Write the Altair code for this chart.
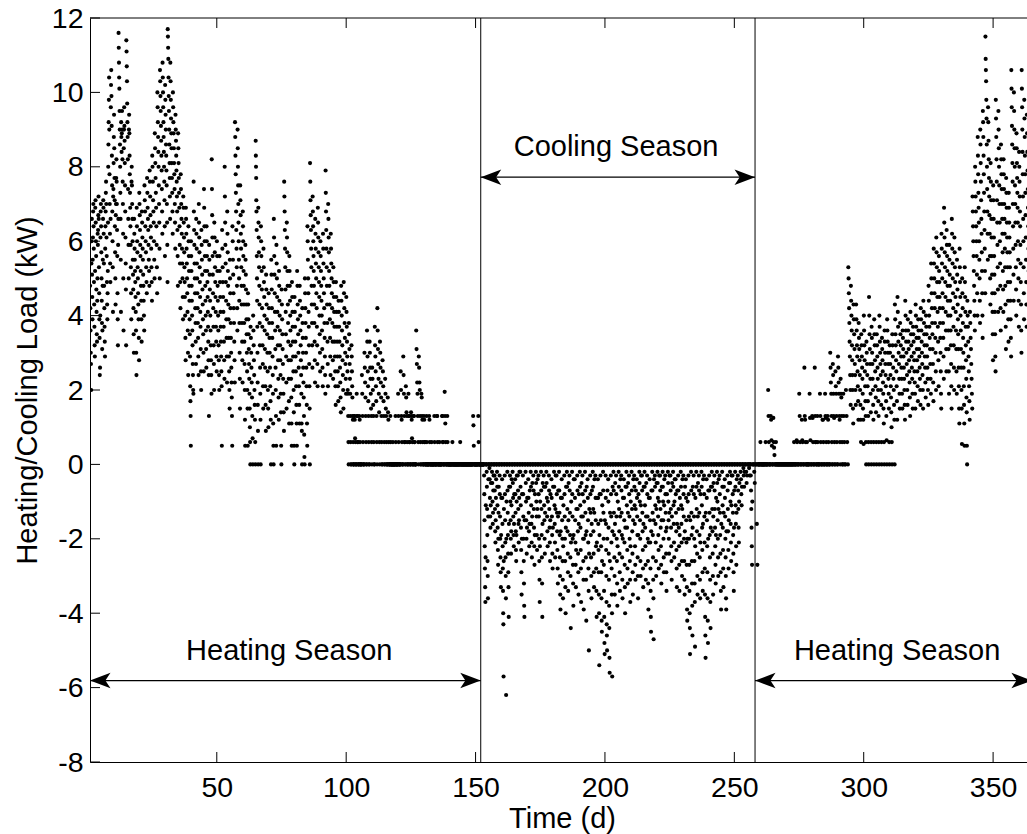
import altair as alt
import pandas as pd

# ---------------- data: hourly-ish load samples, one list per day ----------------
JAN_START = 1
jan = [
    [4.8, 4.2, 3.6, 3.0, 2.7, 2.0, 5.4, 6.0, 6.6, 5.1, 4.5, 3.9],
    [5.5, 6.1, 6.8, 7.0, 6.4, 5.8, 4.9, 4.3, 3.7, 3.2, 2.9, 5.2],
    [6.9, 7.1, 6.5, 6.0, 5.6, 4.7, 4.1, 3.5, 3.3, 4.4, 5.0, 6.2],
    [5.9, 6.3, 6.7, 7.2, 6.6, 5.3, 4.6, 3.9, 3.4, 2.4, 2.6, 4.0],
    [6.1, 6.8, 7.0, 6.4, 5.7, 5.0, 4.4, 3.8, 3.1, 3.6, 4.8, 5.5],
    [6.6, 7.1, 6.9, 6.2, 5.4, 4.8, 4.2, 3.7, 3.3, 2.9, 5.8, 6.4],
    [6.8, 7.3, 7.6, 7.0, 6.1, 5.6, 4.9, 4.3, 3.9, 4.6, 5.2, 6.5],
    [8.0, 8.6, 9.2, 9.8, 10.4, 9.0, 7.8, 7.0, 6.2, 5.4, 4.9, 6.6],
    [9.6, 10.2, 10.6, 9.9, 9.1, 8.3, 7.5, 6.8, 6.0, 5.3, 4.1, 7.2],
    [7.4, 8.1, 8.8, 9.4, 8.5, 7.7, 7.1, 6.4, 5.7, 5.0, 4.3, 6.7],
    [7.0, 7.7, 8.2, 7.6, 7.0, 6.3, 5.6, 4.6, 3.9, 3.2, 5.9, 6.6],
    [11.6, 11.2, 10.8, 10.4, 10.1, 9.5, 9.0, 8.6, 8.0, 7.3, 6.6, 5.5, 4.1],
    [9.2, 8.8, 8.4, 8.9, 9.5, 9.0, 8.2, 7.6, 7.0, 6.2, 5.0, 3.6],
    [8.5, 9.0, 9.6, 9.1, 8.7, 8.1, 7.5, 6.8, 6.1, 5.4, 4.7, 3.2],
    [11.4, 11.1, 10.7, 10.3, 9.7, 9.2, 8.8, 8.2, 7.4, 6.6, 5.9, 5.0],
    [9.0, 9.4, 8.9, 8.3, 7.8, 7.3, 6.9, 6.4, 5.9, 5.3, 4.6, 3.9],
    [7.6, 8.0, 7.5, 7.0, 6.6, 6.0, 5.5, 5.1, 4.7, 4.2, 3.5, 3.0],
    [6.6, 6.2, 5.8, 5.5, 5.2, 4.9, 4.5, 4.1, 3.6, 3.0, 2.4],
    [6.9, 6.4, 6.0, 5.7, 5.3, 5.0, 4.6, 4.3, 3.9, 3.4, 2.8],
    [7.3, 7.0, 6.7, 6.3, 5.9, 5.6, 5.2, 4.8, 4.4, 3.9, 3.3],
    [6.8, 6.5, 6.1, 5.8, 5.5, 5.1, 4.8, 4.4, 4.0, 3.6],
    [7.5, 7.1, 6.8, 6.4, 6.0, 5.7, 5.3, 4.9, 4.6],
    [7.7, 7.3, 6.9, 6.6, 6.3, 5.9, 5.5, 5.2, 4.8],
    [7.9, 7.6, 7.2, 6.7, 6.4, 6.1, 5.8, 5.3, 4.9, 4.4],
    [8.3, 8.0, 7.6, 7.1, 6.8, 6.5, 6.0, 5.5, 5.0],
    [8.9, 8.5, 8.1, 7.7, 7.3, 6.9, 6.4, 5.9, 5.3, 4.6],
    [10.0, 9.6, 9.2, 8.8, 8.4, 8.0, 7.5, 7.0, 6.5, 5.8, 5.0],
    [10.6, 10.3, 9.9, 9.5, 9.1, 8.7, 8.3, 7.9, 7.4, 6.8, 6.2],
    [10.8, 10.4, 10.0, 9.6, 9.2, 8.8, 8.4, 8.0, 7.6, 7.1, 6.4, 5.6],
    [10.2, 9.8, 9.4, 9.0, 8.6, 8.3, 7.9, 7.5, 7.0, 6.5, 5.9, 4.9],
    [11.7, 11.5, 11.2, 10.9, 10.4, 9.9, 9.5, 9.0, 8.6, 8.1, 7.7, 7.2, 6.6],
]

FEB_START = 32
feb = [
    [10.8, 10.3, 9.8, 9.3, 8.9, 8.5, 8.1, 7.7, 7.3, 6.8, 6.2],
    [10.0, 9.6, 9.2, 8.9, 8.5, 8.1, 7.8, 7.4, 7.0, 6.5, 5.8],
    [9.4, 9.0, 8.7, 8.3, 7.9, 7.6, 7.2, 6.8, 6.3, 5.6, 4.8],
    [8.9, 8.5, 8.1, 7.7, 7.3, 6.9, 6.4, 5.9, 5.4, 4.9, 4.2],
    [7.8, 7.4, 7.0, 6.6, 6.2, 5.8, 5.4, 5.0, 4.5, 3.9],
    [7.2, 6.9, 6.5, 6.1, 5.7, 5.3, 4.9, 4.5, 4.0, 3.4, 2.8],
    [6.9, 6.6, 6.2, 5.8, 5.4, 5.0, 4.6, 4.1, 3.6, 3.0, 2.4],
    [6.4, 6.0, 5.6, 5.2, 4.8, 4.4, 3.9, 3.5, 2.9, 2.1, 1.7, 1.3, 0.5],
    [6.0, 5.6, 5.2, 4.8, 4.4, 4.0, 3.6, 3.2, 2.7, 2.4, 2.0, 1.9],
    [7.6, 6.8, 6.3, 5.9, 5.4, 5.0, 4.6, 4.2, 3.8, 3.3, 2.7],
    [6.6, 6.2, 5.8, 5.4, 5.0, 4.6, 4.2, 3.8, 3.4, 2.9, 2.4],
    [7.0, 6.5, 6.1, 5.7, 5.3, 4.9, 4.5, 4.1, 3.7, 3.1, 2.5, 2.0],
    [6.3, 5.9, 5.5, 5.1, 4.7, 4.3, 3.9, 3.5, 3.0, 2.5],
    [7.4, 6.9, 6.4, 6.0, 5.6, 5.2, 4.8, 4.4, 4.0, 3.6, 3.1, 2.6],
    [6.4, 6.0, 5.6, 5.2, 4.9, 4.5, 4.1, 3.7, 3.3, 2.8, 2.4, 1.3],
    [5.9, 5.5, 5.1, 4.7, 4.4, 4.0, 3.6, 3.2, 2.8, 2.4, 1.9],
    [8.2, 7.4, 6.7, 6.1, 5.6, 5.1, 4.6, 4.2, 3.7, 3.2, 2.7, 2.0],
    [6.5, 6.1, 5.7, 5.3, 4.9, 4.5, 4.1, 3.7, 3.3, 2.9, 2.5],
    [6.0, 5.6, 5.2, 4.8, 4.4, 4.0, 3.6, 3.2, 2.8, 2.4, 2.0],
    [5.6, 5.2, 4.9, 4.5, 4.1, 3.7, 3.3, 2.9, 2.5, 2.1, 0.5],
    [6.3, 5.8, 5.3, 4.9, 4.5, 4.1, 3.7, 3.3, 2.8, 2.3],
    [8.0, 7.2, 6.5, 5.9, 5.4, 4.9, 4.4, 3.9, 3.4, 2.9, 2.2],
    [6.8, 6.2, 5.7, 5.2, 4.8, 4.3, 3.9, 3.4, 2.9, 2.5, 2.0, 1.5],
    [5.5, 5.0, 4.6, 4.2, 3.8, 3.4, 3.0, 2.6, 2.2, 1.8, 1.3, 0.5],
    [6.4, 6.0, 5.5, 5.1, 4.6, 4.2, 3.8, 3.3, 2.8, 2.2],
    [9.2, 8.8, 8.3, 7.8, 7.3, 6.8, 6.3, 5.8, 5.3, 4.8, 4.2, 3.6],
    [9.0, 8.5, 8.0, 7.5, 7.0, 6.5, 6.0, 5.5, 5.0, 4.4, 3.8, 3.0, 2.3, 1.5],
    [7.5, 7.1, 6.7, 6.2, 5.8, 5.3, 4.8, 4.3, 3.8, 3.3, 2.8, 2.2],
]

MAR_START = 60
mar = [
    [6.8, 6.4, 6.0, 5.6, 5.2, 4.8, 4.3, 3.8, 3.3, 2.7, 2.0, 1.2, 0.5],
    [5.9, 5.5, 5.1, 4.7, 4.3, 3.9, 3.5, 3.0, 2.5, 2.0, 1.5, 0.5],
    [4.6, 4.3, 3.9, 3.5, 3.1, 2.7, 2.3, 1.9, 1.5, 1.0, 0.6, 0.0],
    [3.7, 3.4, 3.0, 2.6, 2.2, 1.8, 1.3, 0.7, 0.0],
    [4.0, 3.6, 3.2, 2.8, 2.4, 2.0, 1.6, 1.2, 0.6, 0.0],
    [8.7, 8.3, 8.0, 7.7, 7.1, 6.8, 6.3, 5.6, 5.0, 4.4, 3.7, 3.0, 2.2, 1.6, 0.9, 0.0],
    [6.9, 6.5, 6.1, 5.7, 5.3, 4.8, 4.3, 3.8, 3.2, 2.6, 1.9, 1.2, 0.0],
    [6.4, 6.0, 5.6, 5.2, 4.7, 4.2, 3.7, 3.2, 2.7, 2.1, 1.5],
    [5.8, 5.3, 4.9, 4.5, 4.0, 3.6, 3.1, 2.6, 2.1, 1.6, 0.9],
    [5.1, 4.7, 4.3, 3.9, 3.5, 3.0, 2.5, 2.0, 1.5, 1.0],
    [4.6, 4.2, 3.8, 3.4, 3.0, 2.6, 2.1, 1.7, 1.2, 0.0],
    [5.5, 5.1, 4.7, 4.2, 3.8, 3.4, 2.9, 2.4, 1.9, 1.1, 0.5, 0.0],
    [6.6, 6.1, 5.6, 5.1, 4.6, 4.1, 3.6, 3.1, 2.6, 2.0, 1.3, 0.5],
    [5.9, 5.4, 5.0, 4.5, 4.1, 3.7, 3.2, 2.8, 2.3, 1.8, 1.2],
    [5.2, 4.8, 4.4, 4.0, 3.6, 3.2, 2.8, 2.4, 1.9, 1.4, 0.5, 0.0],
    [4.7, 4.3, 3.9, 3.5, 3.1, 2.7, 2.3, 1.9, 1.4, 0.9],
    [7.6, 7.2, 6.8, 6.3, 5.8, 5.3, 4.7, 4.1, 3.5, 2.9, 2.2, 1.5],
    [6.5, 6.1, 5.7, 5.2, 4.8, 4.3, 3.8, 3.3, 2.8, 2.3, 1.7, 1.1],
    [5.6, 5.2, 4.8, 4.4, 4.0, 3.6, 3.2, 2.8, 2.3, 1.8, 1.1, 0.5],
    [4.9, 4.5, 4.1, 3.7, 3.3, 2.9, 2.5, 2.0, 1.4, 0.5, 0.0],
    [4.5, 4.1, 3.7, 3.3, 2.9, 2.5, 2.1, 1.6, 1.1, 0.5],
    [5.2, 4.8, 4.3, 3.9, 3.5, 3.0, 2.6, 2.1, 1.6, 1.1],
    [4.8, 4.4, 4.0, 3.6, 3.2, 2.8, 2.4, 1.9, 1.1, 0.9, 0.0],
    [4.2, 3.8, 3.4, 3.0, 2.6, 2.2, 1.8, 1.3, 0.8, 0.2, 0.0],
    [5.0, 4.6, 4.2, 3.8, 3.4, 3.0, 2.6, 2.1, 1.6, 1.1, 0.5],
    [6.4, 6.0, 5.5, 5.0, 4.6, 4.1, 3.7, 3.2, 2.7, 2.1, 1.5, 0.0],
    [8.1, 7.6, 7.1, 6.7, 6.3, 5.8, 5.3, 4.8, 4.3, 3.8, 3.2, 2.6],
    [7.2, 6.8, 6.4, 6.0, 5.6, 5.2, 4.8, 4.3, 3.8, 3.3, 2.8, 2.2],
    [6.6, 6.2, 5.8, 5.4, 5.0, 4.6, 4.2, 3.7, 3.2, 2.7, 2.1],
    [6.9, 6.5, 6.1, 5.7, 5.3, 4.9, 4.5, 4.0, 3.5, 3.0, 2.5],
    [6.0, 5.6, 5.2, 4.8, 4.4, 4.0, 3.6, 3.1, 2.6, 2.1],
]

APR_START = 91
apr = [
    [6.2, 5.8, 5.4, 5.0, 4.6, 4.2, 3.8, 3.4, 2.9, 2.4, 1.9],
    [7.9, 7.3, 6.8, 6.3, 5.8, 5.3, 4.8, 4.3, 3.8, 3.3, 2.7, 2.1],
    [7.0, 6.6, 6.1, 5.7, 5.2, 4.8, 4.3, 3.9, 3.4, 2.9, 2.4],
    [6.2, 5.8, 5.4, 5.0, 4.6, 4.2, 3.8, 3.3, 2.8, 2.3],
    [5.3, 4.9, 4.5, 4.1, 3.7, 3.3, 2.9, 2.5, 2.1, 1.6],
    [4.9, 4.5, 4.1, 3.7, 3.3, 2.9, 2.5, 2.1, 1.7],
    [4.4, 4.1, 3.7, 3.3, 2.9, 2.6, 2.2, 1.8, 1.4],
    [4.8, 4.4, 4.0, 3.6, 3.2, 2.8, 2.4, 2.0, 1.5],
    [4.9, 4.6, 4.2, 3.8, 3.4, 3.0, 2.7, 2.3, 1.9],
    [4.5, 4.1, 3.7, 3.3, 2.9, 2.5, 2.0, 1.9, 1.3, 0.6, 0.0],
    [3.8, 3.5, 3.1, 2.7, 2.3, 1.9, 1.3, 0.6, 0.0, 0.0],
    [3.2, 2.9, 2.5, 2.1, 1.8, 1.3, 1.2, 0.6, 0.0, 0.0, 0.0],
    [1.3, 1.3, 1.2, 0.7, 0.6, 0.0, 0.0, 0.0],
    [1.9, 1.3, 1.3, 0.6, 0.6, 0.0, 0.0, 0.0],
    [1.3, 1.2, 0.6, 0.0, 0.0, 0.0, 0.0],
    [2.4, 1.9, 1.3, 0.6, 0.0, 0.0, 0.0],
    [3.0, 2.6, 2.2, 1.8, 1.3, 0.6, 0.0, 0.0],
    [3.6, 3.3, 2.9, 2.5, 2.1, 1.7, 1.3, 0.6, 0.0, 0.0],
    [3.3, 3.0, 2.6, 2.3, 1.9, 1.5, 1.3, 0.6, 0.0],
    [2.6, 2.3, 2.0, 1.6, 1.3, 0.6, 0.0, 0.0],
    [3.7, 3.2, 2.9, 2.5, 2.1, 1.7, 1.3, 0.6, 0.0],
    [4.2, 3.6, 3.1, 2.7, 2.3, 1.9, 1.4, 0.6, 0.0],
    [3.3, 3.0, 2.6, 2.2, 1.8, 1.3, 0.6, 0.0, 0.0],
    [2.8, 2.5, 2.1, 1.7, 1.3, 0.6, 0.0, 0.0],
    [2.3, 1.9, 1.5, 1.3, 0.6, 0.0, 0.0, 0.0],
    [1.8, 1.4, 1.2, 0.6, 0.0, 0.0, 0.0, 0.0],
    [1.3, 0.6, 0.0, 0.0, 0.0, 0.0, 0.0, 0.0],
    [0.6, 0.0, 0.0, 0.0, 0.0, 0.0, 0.0, 0.0],
    [1.3, 0.6, 0.0, 0.0, 0.0, 0.0, 0.0, 0.0],
    [1.9, 1.3, 0.6, 0.0, 0.0, 0.0, 0.0, 0.0],
]

MAY_START = 121
may = [
    [2.5, 2.0, 1.3, 1.2, 0.6, 0.0, 0.0, 0.0],
    [2.9, 2.4, 1.9, 1.3, 0.6, 0.6, 0.0, 0.0],
    [2.1, 1.8, 1.4, 1.3, 0.6, 0.0, 0.0, 0.0],
    [1.9, 1.3, 1.3, 0.6, 0.6, 0.0, 0.0, 0.0],
    [1.4, 1.3, 1.2, 0.7, 0.6, 0.0, 0.0, 0.0],
    [1.3, 1.3, 0.6, 0.6, 0.0, 0.0, 0.0, 0.0],
    [3.6, 3.1, 2.7, 2.2, 1.9, 1.3, 0.6, 0.0],
    [2.9, 2.6, 2.2, 2.0, 1.3, 0.6, 0.0, 0.0],
    [1.9, 1.8, 1.3, 1.2, 0.6, 0.0, 0.0, 0.0],
    [1.3, 1.2, 0.6, 0.6, 0.0, 0.0, 0.0, 0.0],
    [1.3, 0.6, 0.0, 0.0, 0.0, 0.0, 0.0, 0.0],
    [1.3, 1.2, 0.6, 0.0, 0.0, 0.0, 0.0, 0.0],
    [0.6, 0.0, 0.0, 0.0, 0.0, 0.0, 0.0, 0.0],
    [1.3, 0.6, 0.0, 0.0, 0.0, 0.0, 0.0, 0.0],
    [1.3, 1.3, 0.6, 0.0, 0.0, 0.0, 0.0, 0.0],
    [0.6, 0.0, 0.0, 0.0, 0.0, 0.0, 0.0, 0.0],
    [1.3, 1.3, 0.6, 0.6, 0.0, 0.0, 0.0, 0.0],
    [1.95, 1.3, 1.1, 0.6, 0.0, 0.0, 0.0, 0.0],
    [1.3, 0.6, 0.0, 0.0, 0.0, 0.0, 0.0, 0.0],
    [0.0, 0.0, 0.0, 0.0, 0.0, 0.0, 0.0, 0.0],
    [0.6, 0.0, 0.0, 0.0, 0.0, 0.0, 0.0, 0.0],
    [0.0, 0.0, 0.0, 0.0, 0.0, 0.0, 0.0, 0.0],
    [0.0, 0.0, 0.0, 0.0, 0.0, 0.0, 0.0, 0.0],
    [0.6, 0.0, 0.0, 0.0, 0.0, 0.0, 0.0, 0.0],
    [0.0, 0.0, 0.0, 0.0, 0.0, 0.0, 0.0, 0.0],
    [0.0, 0.0, 0.0, 0.0, 0.0, 0.0, 0.0, 0.0],
    [0.0, 0.0, 0.0, 0.0, 0.0, 0.0, 0.0, 0.0],
    [0.0, 0.0, 0.0, 0.0, 0.0, 0.0, 0.0, 0.0],
    [1.3, 1.05, 0.5, 0.0, 0.0, 0.0, 0.0, 0.0],
    [0.0, 0.0, 0.0, 0.0, 0.0, 0.0, 0.0, 0.0],
    [1.3, 0.6, 0.0, 0.0, 0.0, 0.0, 0.0, 0.0],
]

JUN_START = 152
jun = [
    [0, 0, 0, 0, 0, 0, 0, 0],
    [0, 0, 0, -0.3, -0.8, -1.5, -2.2, -2.8, -3.3, -3.7, -2.5, -1.1],
    [0, 0, 0, -0.2, -0.6, -1.2, -1.9, -2.6, -3.0, -3.6, -1.4, -0.4],
    [0, 0, 0, -0.1, -0.4, -0.9, -1.4, -1.7, -1.1, -0.5],
    [0, 0, 0, -0.2, -0.5, -1.0, -1.6, -1.3, -0.7, -0.3],
    [0, 0, 0, -0.3, -0.7, -1.2, -1.8, -2.1, -1.5, -0.9, -0.4],
    [0, 0, 0, -0.2, -0.6, -1.1, -1.7, -2.3, -2.7, -2.0, -1.3, -0.6],
    [0, 0, 0, -0.3, -0.8, -1.4, -2.0, -2.5, -2.9, -3.3, -1.9, -0.9],
    [0, 0, 0, -0.4, -0.9, -1.6, -2.2, -2.8, -3.4, -4.0, -4.3, -5.7, -2.6, -1.2],
    [0, 0, 0, -0.3, -0.8, -1.5, -2.1, -2.5, -3.0, -3.6, -6.2, -2.0, -1.0],
    [0, 0, 0, -0.2, -0.7, -1.3, -1.9, -2.4, -2.9, -3.3, -4.1, -1.6, -0.6],
    [0, 0, 0, -0.3, -0.6, -1.0, -1.5, -2.0, -2.4, -1.8, -1.1, -0.4],
    [0, 0, 0, -0.2, -0.5, -0.9, -1.4, -1.9, -2.2, -1.6, -0.8],
    [0, 0, 0, -0.4, -0.8, -1.3, -1.8, -2.3, -2.6, -1.9, -1.0, -0.3],
    [0, 0, 0, -0.3, -0.7, -1.2, -1.6, -2.1, -1.5, -0.9, -0.2],
    [0, 0, 0, -0.2, -0.6, -1.1, -1.7, -2.3, -2.9, -3.5, -2.0, -0.8],
    [0, 0, 0, -0.3, -0.8, -1.4, -2.0, -2.6, -3.2, -3.8, -4.1, -1.5],
    [0, 0, 0, -0.2, -0.5, -1.0, -1.5, -2.0, -2.4, -1.7, -0.9],
    [0, 0, 0, -0.4, -0.9, -1.3, -1.8, -2.2, -1.6, -0.7],
    [0, 0, 0, -0.2, -0.6, -1.1, -1.6, -2.1, -2.5, -1.4, -0.5],
    [0, 0, 0, -0.3, -0.7, -1.2, -1.7, -2.2, -2.7, -1.9, -0.8],
    [0, 0, 0, -0.2, -0.5, -1.0, -1.4, -1.9, -2.3, -1.2, -0.4],
    [0, 0, 0, -0.3, -0.8, -1.4, -2.0, -2.6, -3.1, -3.7, -2.2, -1.0],
    [0, 0, 0, -0.2, -0.7, -1.2, -1.9, -2.5, -3.2, -4.1, -1.6, -0.5],
    [0, 0, 0, -0.3, -0.6, -1.1, -1.5, -2.0, -2.4, -1.3, -0.6],
    [0, 0, 0, -0.2, -0.5, -0.9, -1.4, -1.8, -2.2, -1.0],
    [0, 0, 0, -0.3, -0.7, -1.2, -1.7, -2.1, -2.6, -1.5, -0.8],
    [0, 0, 0, -0.4, -0.9, -1.4, -1.9, -2.4, -2.8, -1.7, -0.6],
    [0, 0, 0, -0.2, -0.6, -1.1, -1.6, -2.1, -2.5, -1.2, -0.3],
    [0, 0, 0, -0.3, -0.8, -1.3, -1.8, -2.3, -2.8, -3.2, -1.4, -0.7],
]

JUL_START = 182
jul = [
    [0, 0, 0, -0.2, -0.7, -1.3, -1.9, -2.5, -3.0, -3.5, -3.9, -1.8, -0.9],
    [0, 0, 0, -0.4, -0.9, -1.5, -2.0, -2.6, -3.1, -3.6, -2.2, -1.1],
    [0, 0, 0, -0.3, -0.8, -1.4, -2.0, -2.6, -3.3, -4.0, -1.7, -0.6],
    [0, 0, 0, -0.2, -0.6, -1.2, -1.8, -2.4, -2.9, -3.4, -1.5, -0.5],
    [0, 0, 0, -0.3, -0.7, -1.3, -1.9, -2.5, -3.0, -4.4, -2.1, -1.0],
    [0, 0, 0, -0.2, -0.8, -1.4, -2.0, -2.7, -3.2, -3.8, -1.9, -0.4],
    [0, 0, 0, -0.4, -0.9, -1.5, -2.1, -2.7, -3.3, -2.3, -1.2],
    [0, 0, 0, -0.3, -0.7, -1.2, -1.8, -2.4, -2.9, -3.5, -1.6, -0.8],
    [0, 0, 0, -0.2, -0.6, -1.1, -1.7, -2.3, -2.8, -3.7, -1.4, -0.5],
    [0, 0, 0, -0.3, -0.8, -1.4, -2.0, -2.6, -3.1, -3.9, -2.0, -1.0],
    [0, 0, 0, -0.2, -0.7, -1.3, -1.9, -2.5, -3.1, -4.2, -1.8, -0.6],
    [0, 0, 0, -0.4, -0.9, -1.5, -2.1, -2.8, -3.4, -5.0, -2.4, -1.2],
    [0, 0, 0, -0.3, -0.8, -1.3, -1.9, -2.5, -3.0, -3.6, -1.6, -0.7],
    [0, 0, 0, -0.2, -0.6, -1.2, -1.8, -2.4, -2.9, -3.3, -1.3, -0.4],
    [0, 0, 0, -0.3, -0.9, -1.5, -2.2, -2.8, -3.4, -4.1, -2.1, -0.9],
    [0, 0, 0, -0.4, -0.9, -1.6, -2.3, -2.9, -3.5, -4.0, -5.4, -1.9, -0.8],
    [0, 0, 0, -0.3, -0.8, -1.5, -2.2, -2.9, -3.6, -4.2, -4.5, -2.6, -1.1],
    [0, 0, 0, -0.2, -0.7, -1.3, -2.0, -2.7, -3.4, -4.1, -4.8, -5.1, -1.5],
    [0, 0, 0, -0.3, -0.9, -1.6, -2.3, -3.0, -3.7, -4.3, -4.6, -5.0, -2.0, -0.7],
    [0, 0, 0, -0.4, -1.0, -1.7, -2.4, -3.1, -3.8, -4.4, -5.2, -5.6, -2.6, -1.3],
    [0, 0, 0, -0.3, -0.8, -1.4, -2.1, -2.8, -3.5, -4.0, -5.7, -1.8, -0.6],
    [0, 0, 0, -0.2, -0.7, -1.3, -1.9, -2.5, -3.0, -3.5, -1.6, -0.5],
    [0, 0, 0, -0.3, -0.8, -1.4, -2.0, -2.6, -3.2, -3.8, -2.2, -1.0],
    [0, 0, 0, -0.2, -0.6, -1.2, -1.8, -2.4, -2.9, -3.4, -1.4, -0.4],
    [0, 0, 0, -0.3, -0.7, -1.3, -1.9, -2.5, -3.1, -3.6, -2.0, -0.9],
    [0, 0, 0, -0.4, -0.9, -1.5, -2.1, -2.7, -3.3, -4.0, -1.7, -0.6],
    [0, 0, 0, -0.2, -0.6, -1.1, -1.7, -2.3, -2.8, -3.2, -1.3, -0.5],
    [0, 0, 0, -0.3, -0.8, -1.4, -2.0, -2.6, -3.1, -3.7, -2.2, -1.0],
    [0, 0, 0, -0.2, -0.7, -1.2, -1.8, -2.4, -2.9, -3.5, -1.5, -0.4],
    [0, 0, 0, -0.3, -0.6, -1.1, -1.6, -2.2, -2.7, -3.1, -1.2, -0.7],
    [0, 0, 0, -0.4, -0.9, -1.4, -1.9, -2.5, -3.0, -3.6, -1.9, -0.8],
]

AUG_START = 213
aug = [
    [0, 0, 0, -0.2, -0.5, -1.0, -1.5, -2.0, -2.6, -3.0, -1.1, -0.3],
    [0, 0, 0, -0.3, -0.7, -1.3, -1.8, -2.3, -2.8, -3.3, -1.6, -0.6],
    [0, 0, 0, -0.2, -0.6, -1.1, -1.7, -2.2, -2.7, -3.1, -1.4, -0.5],
    [0, 0, 0, -0.3, -0.8, -1.4, -2.0, -2.6, -3.2, -3.9, -2.1, -0.9],
    [0, 0, 0, -0.4, -0.9, -1.5, -2.1, -2.8, -3.4, -4.1, -4.5, -1.8, -0.7],
    [0, 0, 0, -0.2, -0.7, -1.3, -1.9, -2.5, -3.1, -3.6, -4.7, -1.5, -0.4],
    [0, 0, 0, -0.3, -0.6, -1.1, -1.6, -2.1, -2.6, -3.0, -1.2, -0.5],
    [0, 0, 0, -0.2, -0.5, -0.9, -1.4, -1.9, -2.3, -2.8, -1.0, -0.3],
    [0, 0, 0, -0.3, -0.7, -1.2, -1.7, -2.2, -2.7, -3.2, -1.5, -0.6],
    [0, 0, 0, -0.2, -0.6, -1.0, -1.5, -2.0, -2.5, -2.9, -1.1, -0.4],
    [0, 0, 0, -0.3, -0.8, -1.3, -1.8, -2.4, -2.9, -3.4, -1.7, -0.8],
    [0, 0, 0, -0.2, -0.5, -1.0, -1.5, -2.0, -2.4, -1.3, -0.3],
    [0, 0, 0, -0.3, -0.7, -1.2, -1.7, -2.2, -2.6, -3.1, -1.4, -0.5],
    [0, 0, 0, -0.2, -0.6, -1.1, -1.6, -2.1, -2.5, -1.0, -0.4],
    [0, 0, 0, -0.4, -0.8, -1.3, -1.8, -2.3, -2.8, -3.3, -1.6, -0.7],
    [0, 0, 0, -0.3, -0.7, -1.2, -1.7, -2.2, -2.7, -3.4, -1.9, -0.9],
    [0, 0, 0, -0.2, -0.6, -1.1, -1.6, -2.1, -2.6, -3.0, -1.2, -0.4],
    [0, 0, 0, -0.3, -0.8, -1.4, -2.0, -2.6, -3.1, -3.5, -1.8, -0.6],
    [0, 0, 0, -0.4, -0.9, -1.5, -2.1, -2.7, -3.3, -3.9, -4.2, -2.0, -1.0],
    [0, 0, 0, -0.3, -0.8, -1.4, -2.0, -2.7, -3.4, -4.0, -4.4, -5.1, -1.5],
    [0, 0, 0, -0.2, -0.7, -1.3, -1.9, -2.6, -3.2, -3.8, -4.6, -1.7, -0.6],
    [0, 0, 0, -0.3, -0.8, -1.4, -2.0, -2.6, -3.2, -3.7, -4.9, -2.2, -0.9],
    [0, 0, 0, -0.2, -0.6, -1.2, -1.8, -2.4, -3.0, -3.5, -1.4, -0.5],
    [0, 0, 0, -0.3, -0.7, -1.3, -1.9, -2.5, -3.1, -3.6, -2.1, -0.8],
    [0, 0, 0, -0.2, -0.6, -1.1, -1.7, -2.3, -2.9, -3.4, -1.6, -0.4],
    [0, 0, 0, -0.3, -0.8, -1.4, -2.1, -2.8, -3.5, -4.1, -4.6, -5.2, -1.3],
    [0, 0, 0, -0.4, -0.9, -1.5, -2.2, -2.9, -3.6, -4.2, -4.8, -2.0, -0.7],
    [0, 0, 0, -0.3, -0.7, -1.3, -1.9, -2.5, -3.1, -3.7, -4.4, -1.7, -0.6],
    [0, 0, 0, -0.2, -0.6, -1.2, -1.8, -2.4, -3.0, -3.5, -1.4, -0.5],
    [0, 0, 0, -0.3, -0.7, -1.2, -1.7, -2.2, -2.7, -3.2, -1.9, -0.9],
    [0, 0, 0, -0.2, -0.5, -1.0, -1.5, -2.0, -2.5, -3.0, -1.2, -0.4],
]

SEP_START = 244
sep = [
    [0, 0, 0, -0.3, -0.8, -1.3, -1.9, -2.4, -2.9, -3.4, -3.9, -1.6],
    [0, 0, 0, -0.2, -0.6, -1.1, -1.7, -2.3, -2.8, -3.3, -1.3, -0.6],
    [0, 0, 0, -0.4, -0.9, -1.4, -2.0, -2.5, -3.0, -3.6, -3.9, -1.8],
    [0, 0, 0, -0.3, -0.7, -1.2, -1.8, -2.3, -2.8, -1.5, -0.5],
    [0, 0, 0, -0.2, -0.5, -1.0, -1.6, -2.1, -2.6, -1.1, -0.3],
    [0, 0, 0, -0.3, -0.8, -1.3, -1.9, -2.4, -2.9, -3.4, -1.7, -0.7],
    [0, 0, 0, -0.2, -0.6, -1.1, -1.6, -2.2, -2.7, -1.3, -0.4],
    [0, 0, 0, -0.3, -0.7, -1.2, -1.7, -2.1, -1.0, -0.5],
    [0, 0, 0, -0.2, -0.4, -0.8, -1.1, -0.6],
    [0, 0, 0, -0.1, -0.3, -0.6, -0.2],
    [0, 0, 0, -0.2, -0.5, -0.3],
    [0, 0, 0, -0.1, -0.3],
    [0, 0, 0, -0.3, -0.7, -1.2, -1.7, -2.2, -2.7, -1.0],
    [0, 0, 0, -0.2, -0.5],
    [0, 0, 0, -1.6, -2.7],
    [0, 0, 0, 0, 0, 0],
    [0.6, 0, 0, 0, 0, 0],
    [0, 0, 0, 0, 0, 0],
    [0.6, 0, 0, 0, 0, 0],
    [2.0, 1.3, 0.6, 0, 0, 0, 0],
    [1.3, 1.2, 0.65, 0.5, 0, 0, 0],
    [1.25, 0.6, 0.45, 0.25, 0, 0, 0],
    [0.6, 0, 0, 0, 0, 0],
    [0, 0, 0, 0, 0, 0],
    [0, 0, 0, 0, 0, 0],
    [0, 0, 0, 0, 0, 0],
    [0, 0, 0, 0, 0, 0],
    [0, 0, 0, 0, 0, 0],
    [0, 0, 0, 0, 0, 0],
    [0.6, 0, 0, 0, 0, 0],
]

OCT_START = 274
oct_ = [
    [0.65, 0.6, 0, 0, 0, 0],
    [1.9, 1.3, 0.6, 0, 0, 0],
    [1.2, 0.65, 0.6, 0, 0, 0],
    [2.6, 1.3, 1.2, 0.6, 0, 0, 0],
    [0.6, 0, 0, 0, 0, 0],
    [1.9, 1.25, 0.65, 0, 0, 0],
    [1.3, 1.25, 0.6, 0, 0, 0],
    [2.6, 1.3, 0.6, 0.6, 0, 0, 0],
    [1.3, 0.6, 0, 0, 0, 0],
    [1.9, 1.3, 0.6, 0, 0, 0],
    [1.2, 1.2, 0.6, 0, 0, 0],
    [1.9, 1.3, 1.25, 0.6, 0, 0, 0],
    [1.3, 1.2, 0.6, 0, 0, 0],
    [3.0, 2.6, 2.2, 1.9, 1.3, 0.6, 0, 0],
    [2.7, 2.4, 1.9, 1.3, 1.25, 0.6, 0, 0],
    [2.5, 2.1, 1.9, 1.3, 0.6, 0, 0],
    [2.9, 2.6, 2.2, 1.9, 1.3, 1.2, 0.6, 0],
    [2.3, 1.9, 1.8, 1.3, 0.6, 0, 0],
    [1.9, 1.3, 0.6, 0, 0],
    [2.0, 1.3, 0.6, 0],
    [5.3, 5.0, 4.6, 4.2, 3.8, 3.3, 2.9, 2.4, 2.0, 1.6],
    [4.8, 4.4, 4.0, 3.6, 3.2, 2.8, 2.4, 2.0, 1.5, 1.1],
    [4.3, 3.9, 3.5, 3.1, 2.7, 2.4, 2.0, 1.6],
    [4.3, 3.9, 3.6, 3.2, 2.9, 2.5, 2.1, 1.7, 1.2],
    [3.8, 3.4, 3.1, 2.8, 2.4, 2.0, 1.6, 1.2, 0.6],
    [3.5, 3.2, 2.9, 2.6, 2.3, 1.9, 1.5, 1.2, 0.55],
    [4.0, 3.6, 3.2, 2.8, 2.5, 2.1, 1.7, 1.3, 0.6, 0],
    [3.3, 3.0, 2.7, 2.4, 2.1, 1.7, 1.3, 0.6, 0],
    [4.5, 4.0, 3.5, 3.1, 2.7, 2.3, 1.9, 1.4, 0.6, 0],
    [3.7, 3.4, 3.0, 2.7, 2.3, 2.0, 1.6, 1.2, 0.6, 0],
    [3.9, 3.5, 3.2, 2.8, 2.5, 2.1, 1.8, 1.4, 0.6, 0],
]

NOV_START = 305
nov = [
    [3.5, 3.2, 2.9, 2.6, 2.3, 2.0, 1.7, 1.3, 0.6, 0],
    [4.0, 3.7, 3.3, 3.0, 2.7, 2.4, 2.0, 1.6, 0.6, 0],
    [3.4, 3.1, 2.8, 2.5, 2.2, 1.9, 1.5, 1.1, 0.6, 0],
    [3.6, 3.3, 3.0, 2.7, 2.4, 2.1, 1.7, 1.3, 0.65, 0],
    [3.9, 3.6, 3.3, 3.0, 2.7, 2.3, 1.9, 1.5, 0.6, 0],
    [3.2, 3.0, 2.7, 2.4, 2.1, 1.8, 1.4, 1.0, 0.6, 0],
    [3.5, 3.2, 2.9, 2.6, 2.3, 2.0, 1.6, 1.2, 0],
    [4.3, 3.9, 3.5, 3.2, 2.8, 2.5, 2.1, 1.7, 1.2],
    [4.5, 4.1, 3.7, 3.3, 3.0, 2.7, 2.3, 1.9, 1.5],
    [3.8, 3.5, 3.2, 2.9, 2.6, 2.3, 1.9, 1.5],
    [3.6, 3.4, 3.1, 2.9, 2.6, 2.3, 2.0, 1.6, 1.2],
    [4.4, 4.0, 3.6, 3.3, 3.0, 2.7, 2.4, 2.0, 1.6],
    [3.9, 3.6, 3.3, 3.1, 2.8, 2.5, 2.2, 1.8, 1.3],
    [4.1, 3.8, 3.5, 3.2, 2.9, 2.6, 2.3, 1.9, 1.5],
    [3.7, 3.5, 3.3, 3.0, 2.8, 2.5, 2.2, 1.9, 1.5],
    [4.3, 4.0, 3.7, 3.4, 3.1, 2.8, 2.5, 2.1, 1.7],
    [3.9, 3.6, 3.4, 3.1, 2.9, 2.6, 2.3, 2.0, 1.6],
    [4.2, 3.9, 3.6, 3.3, 3.0, 2.7, 2.4, 2.0, 1.5],
    [4.4, 4.1, 3.8, 3.5, 3.2, 2.9, 2.6, 2.2, 1.8],
    [4.0, 3.7, 3.5, 3.2, 2.9, 2.6, 2.3, 2.0, 1.6],
    [4.8, 4.4, 4.0, 3.7, 3.4, 3.1, 2.7, 2.3, 1.9],
    [5.4, 5.0, 4.6, 4.2, 3.8, 3.5, 3.1, 2.7, 2.2, 1.7],
    [5.8, 5.4, 5.0, 4.6, 4.2, 3.8, 3.4, 3.0, 2.5, 2.0],
    [6.1, 5.7, 5.3, 4.9, 4.5, 4.1, 3.7, 3.3, 2.8, 2.1],
    [5.6, 5.2, 4.9, 4.5, 4.2, 3.8, 3.4, 3.0, 2.5, 1.9, 1.5],
    [6.2, 5.8, 5.4, 5.0, 4.6, 4.2, 3.8, 3.4, 2.9, 2.3],
    [6.9, 6.5, 6.1, 5.7, 5.3, 4.9, 4.5, 4.1, 3.6, 3.1, 2.5],
    [6.3, 5.9, 5.6, 5.2, 4.8, 4.4, 4.0, 3.6, 3.1, 2.5, 1.9],
    [5.9, 5.5, 5.1, 4.8, 4.4, 4.0, 3.6, 3.2, 2.7, 2.1, 1.5],
    [6.6, 6.2, 5.8, 5.4, 5.0, 4.6, 4.2, 3.7, 3.2, 2.6, 2.0],
]

DEC_START = 335
dec = [
    [6.1, 5.7, 5.3, 4.9, 4.5, 4.1, 3.6, 3.1, 2.5, 1.9],
    [5.5, 5.1, 4.7, 4.3, 3.9, 3.5, 3.1, 2.6, 2.1, 1.5, 1.1],
    [5.8, 5.3, 4.9, 4.5, 4.0, 3.6, 3.1, 2.6, 2.0, 1.5, 0.55],
    [5.0, 4.6, 4.2, 3.8, 3.4, 3.0, 2.6, 2.1, 1.6, 1.1, 0.5],
    [5.3, 4.9, 4.5, 4.1, 3.7, 3.2, 2.8, 2.3, 1.8, 1.4, 0.5, 0],
    [4.4, 4.0, 3.7, 3.3, 2.9, 2.5, 2.1, 1.7, 1.2],
    [4.1, 3.8, 3.4, 3.1, 2.7, 2.3, 1.9, 1.5],
    [7.2, 6.8, 6.4, 6.0, 5.6, 5.2, 4.8, 4.4, 4.0, 3.6],
    [8.0, 7.6, 7.2, 6.8, 6.4, 6.0, 5.6, 5.1, 4.6, 4.0],
    [8.8, 8.3, 7.8, 7.3, 6.9, 6.5, 6.0, 5.5, 5.0, 4.4, 3.8],
    [9.0, 8.6, 8.1, 7.6, 7.1, 6.6, 6.2, 5.7, 5.2, 4.6, 4.0, 3.4],
    [9.5, 9.2, 8.8, 8.3, 7.8, 7.3, 6.8, 6.3, 5.8, 5.2, 4.6],
    [11.5, 10.9, 10.6, 10.3, 9.8, 9.3, 8.6, 8.0, 7.4, 6.8, 6.2, 5.5],
    [9.6, 9.2, 8.7, 8.2, 7.7, 7.2, 6.7, 6.2, 5.6, 5.0, 4.3],
    [8.1, 7.6, 7.1, 6.6, 6.1, 5.6, 5.1, 4.6, 4.1, 3.5, 2.8],
    [7.5, 7.1, 6.6, 6.1, 5.6, 5.1, 4.6, 4.1, 3.5, 2.9, 2.5],
    [9.8, 9.3, 8.8, 8.2, 7.6, 7.1, 6.5, 5.9, 5.3, 4.7, 4.1],
    [9.5, 9.0, 8.5, 8.0, 7.5, 7.0, 6.5, 6.0, 5.4, 4.8, 4.2, 3.6],
    [8.6, 8.2, 7.8, 7.4, 7.0, 6.6, 6.2, 5.7, 5.2, 4.7, 4.1],
    [8.2, 7.8, 7.4, 7.0, 6.6, 6.2, 5.8, 5.3, 4.8, 4.3, 3.7, 3.1],
    [7.7, 7.3, 6.9, 6.5, 6.1, 5.7, 5.3, 4.9, 4.4, 3.9, 3.3],
    [7.3, 6.9, 6.5, 6.1, 5.7, 5.3, 4.9, 4.4, 3.9, 3.4, 2.9],
    [10.6, 10.1, 9.6, 9.1, 8.6, 8.1, 7.6, 7.0, 6.4, 5.8, 5.1, 4.4],
    [10.0, 9.5, 9.0, 8.5, 8.0, 7.5, 7.0, 6.5, 5.9, 5.3, 4.7, 4.0],
    [8.9, 8.5, 8.1, 7.7, 7.3, 6.9, 6.5, 6.0, 5.5, 5.0, 4.4, 3.7],
    [8.4, 8.0, 7.6, 7.2, 6.8, 6.4, 5.9, 5.4, 4.9, 4.3, 3.6, 3.0],
    [10.6, 10.1, 9.6, 9.0, 8.4, 7.8, 7.2, 6.6, 6.0, 5.3, 4.6, 3.9],
    [9.8, 9.3, 8.8, 8.3, 7.8, 7.3, 6.7, 6.1, 5.5, 4.9, 4.3, 3.7],
    [9.4, 8.9, 8.4, 7.9, 7.4, 6.9, 6.4, 5.8, 5.2, 4.6, 4.0],
]

# season boundaries and annotation values
season_lines = [152, 258]
arrow_start = [1, 152, 258]
arrow_end = [152, 258, 365]
arrow_level = [-5.81, 7.72, -5.81]
label_text = ["Heating Season", "Cooling Season", "Heating Season"]
label_day = [78, 204.3, 312.9]
label_level = [-5.27, 8.29, -5.27]
x_ticks = [50, 100, 150, 200, 250, 300, 350]
y_ticks = [-8, -6, -4, -2, 0, 2, 4, 6, 8, 10, 12]

# ---------------- build tables ----------------
rows = []
for start, month in [(JAN_START, jan), (FEB_START, feb), (MAR_START, mar), (APR_START, apr),
                     (MAY_START, may), (JUN_START, jun), (JUL_START, jul), (AUG_START, aug),
                     (SEP_START, sep), (OCT_START, oct_), (NOV_START, nov), (DEC_START, dec)]:
    for k, vals in enumerate(month):
        n = len(vals)
        for i, v in enumerate(vals):
            rows.append({"day": start + k + (i + 0.5) / n, "load": v})
pts = pd.DataFrame(rows)

W, H = 937, 744
FONT = "Liberation Sans"

xscale = alt.Scale(domain=[1, 363.1], nice=False, zero=False)
yscale = alt.Scale(domain=[-8, 12], nice=False, zero=False)
xaxis = alt.Axis(values=x_ticks, title="Time (d)", titleX=472, titleY=65,
                 titleBaseline="alphabetic", titleAlign="center",
                 labelExpr="'' + datum.value")
yaxis = alt.Axis(values=y_ticks, title="Heating/Cooling Load (kW)", titleX=-54, titleY=372,
                 titleBaseline="alphabetic", titleAlign="center",
                 labelExpr="'' + datum.value")


def X(field="day"):
    return alt.X(f"{field}:Q", scale=xscale, axis=xaxis)


def Y(field="load"):
    return alt.Y(f"{field}:Q", scale=yscale, axis=yaxis)


points = alt.Chart(pts).mark_circle(size=17, color="black", opacity=1, clip=True).encode(x=X(), y=Y())

vlines = alt.Chart(pd.DataFrame({"day": season_lines})).mark_rule(color="black", strokeWidth=1).encode(x=X())

arr_df = pd.DataFrame({"day": arrow_start, "day_end": arrow_end, "load": arrow_level})
arrow_lines = alt.Chart(arr_df).mark_rule(color="black", strokeWidth=1.2).encode(
    x=X(), x2="day_end:Q", y=Y())

left_head = "M0,0 L2,-0.75 L1.5,0 L2,0.75 Z"
right_head = "M0,0 L-2,-0.75 L-1.5,0 L-2,0.75 Z"
heads_l = alt.Chart(arr_df).mark_point(shape=left_head, filled=True, color="black", size=420,
                                        opacity=1, strokeWidth=0).encode(x=X(), y=Y())
heads_r = alt.Chart(arr_df).mark_point(shape=right_head, filled=True, color="black", size=420,
                                        opacity=1, strokeWidth=0).encode(x=X("day_end"), y=Y())

labels = alt.Chart(pd.DataFrame({"day": label_day, "load": label_level, "txt": label_text})).mark_text(
    font=FONT, fontSize=29, color="black", align="center", baseline="alphabetic").encode(
    x=X(), y=Y(), text="txt:N")

tick_df = pd.DataFrame({"day": x_ticks})
bottom_ticks = alt.Chart(tick_df).mark_rule(color="black", strokeWidth=1).encode(
    x=X(), y=alt.value(H), y2=alt.value(H - 10))
top_ticks = alt.Chart(tick_df).mark_rule(color="black", strokeWidth=1).encode(
    x=X(), y=alt.value(0), y2=alt.value(10))
left_ticks = alt.Chart(pd.DataFrame({"load": y_ticks})).mark_rule(color="black", strokeWidth=1).encode(
    y=Y(), x=alt.value(0), x2=alt.value(10))
top_border = alt.Chart(pd.DataFrame({"load": [12]})).mark_rule(color="black", strokeWidth=1).encode(
    y=Y(), x=alt.value(0), x2=alt.value(W))

chart = alt.layer(
    points, vlines, arrow_lines, heads_l, heads_r, labels,
    bottom_ticks, top_ticks, left_ticks, top_border,
).properties(
    width=W, height=H,
    autosize=alt.AutoSizeParams(type="none"),
    padding={"left": 90, "top": 18, "right": 0, "bottom": 72},
).configure_view(stroke=None).configure_axis(
    grid=False, ticks=False, domainColor="black", domainWidth=1,
    labelFont=FONT, labelFontSize=28.5, labelColor="black", labelFlush=False, labelOverlap=False,
    titleFont=FONT, titleFontSize=29, titleFontWeight="normal", titleColor="black",
).configure_axisX(labelPadding=11).configure_axisY(labelPadding=7)

chart.save("out.html", embed_options={"renderer": "svg", "actions": False})
